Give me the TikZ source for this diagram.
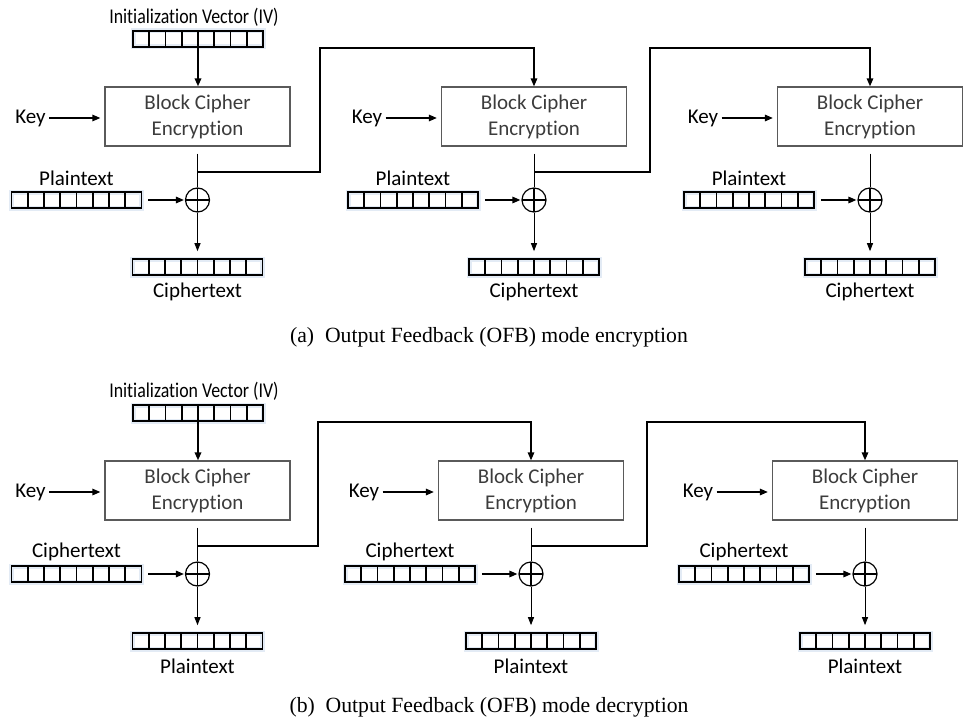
\documentclass[tikz,border=0pt]{standalone}
\usepackage{fontspec}
\setmainfont{Carlito}[Ligatures={NoCommon}]
\newfontfamily\capfont{Liberation Serif}
\usetikzlibrary{calc, arrows.meta}
\definecolor{boxgray}{HTML}{5A5A5A}
\definecolor{textgray}{HTML}{3C3C3C}
\definecolor{reglight}{HTML}{E3EBF5}

\begin{document}
\begin{tikzpicture}[x=1bp, y=-1bp, font=\fontsize{21bp}{26bp}\selectfont]
    % Styles
    \tikzstyle{cipher} = [rectangle, draw=boxgray, line width=1.3bp, minimum width=185bp, minimum height=59bp, align=center, text=textgray]
    \tikzstyle{reg} = [rectangle, draw, line width=1.6bp, minimum width=130bp, minimum height=16bp, inner sep=0pt, preaction={draw=reglight, line width=5bp},
        path picture={\foreach \k in {1,...,7}
            \draw [line width=1.6bp] ($(path picture bounding box.south west)!\k/8!(path picture bounding box.south east)$) -- ($(path picture bounding box.north west)!\k/8!(path picture bounding box.north east)$);}]
    \tikzstyle{xor} = [circle, draw, line width=1.2bp, minimum size=24bp, inner sep=0pt,
        path picture={\draw [line width=1.2bp] (path picture bounding box.north) -- (path picture bounding box.south)
            (path picture bounding box.west) -- (path picture bounding box.east);}]
    \tikzstyle{line} = [draw, -{Triangle[length=8bp, width=6.5bp]}, line width=1.5bp]
    \tikzstyle{wire} = [draw, line width=1bp]
    \tikzstyle{caption} = [font=\capfont\fontsize{21.7bp}{25bp}\selectfont]

    \useasboundingbox (0,0) rectangle (976,721);

    % Rows: a = encryption, b = decryption
    \foreach \r/\dy/\inp/\outp/\ca/\cb/\cc/\fa/\fb in {a/0/Plaintext/Ciphertext/197.5/534/870/320/650,
                                                       b/374/Ciphertext/Plaintext/197.5/531/865/318/647} {
        \node (iv-\r) at (194, 17+\dy) {\scalebox{0.85}[1]{Initialization Vector (IV)}};
        \node [reg] (ivreg-\r) at (198, 39+\dy) {};

        \foreach \i/\cx in {1/\ca, 2/\cb, 3/\cc} {
            \node [cipher] (box-\r\i) at (\cx, 116.5+\dy) {Block Cipher\\Encryption};
            \node (key-\r\i) at (\cx-167, 118+\dy) {Key};
            \node [xor] (xor-\r\i) at (\cx, 200+\dy) {};
            \node [reg] (in-\r\i) at (\cx-121, 200+\dy) {};
            \node (inlab-\r\i) at (\cx-121, 178+\dy) {\inp};
            \node [reg] (out-\r\i) at (\cx, 267+\dy) {};
            \node (outlab-\r\i) at (\cx, 292+\dy) {\outp};
            \coordinate (tap-\r\i) at (\cx, 172+\dy);

            \path [line, shorten >=4bp] (key-\r\i.east) -- (key-\r\i.east -| box-\r\i.west);
            \path [wire, shorten <=7bp] (box-\r\i.south) -- (xor-\r\i.north);
            \path [line, shorten <=6bp, shorten >=1bp] (in-\r\i.east) -- (xor-\r\i.west);
            \path [wire, -{Triangle[length=8bp, width=6bp]}, shorten >=7bp] (xor-\r\i.south) -- (out-\r\i.north);
        }

        \path [line, line width=1.8bp] (ivreg-\r.south) -- (ivreg-\r.south |- box-\r1.north);
        \coordinate (up-\r1) at (\fa, 48+\dy);
        \coordinate (up-\r2) at (\fb, 48+\dy);
        \path [line] (tap-\r1) -| (up-\r1) -| (box-\r2);
        \path [line] (tap-\r2) -| (up-\r2) -| (box-\r3);
    }

    % Captions
    \node [caption] (cap-a) at (489, 337) {(a)\enspace Output Feedback (OFB) mode encryption};
    \node [caption] (cap-b) at (489, 707) {(b)\enspace Output Feedback (OFB) mode decryption};
\end{tikzpicture}
\end{document}
